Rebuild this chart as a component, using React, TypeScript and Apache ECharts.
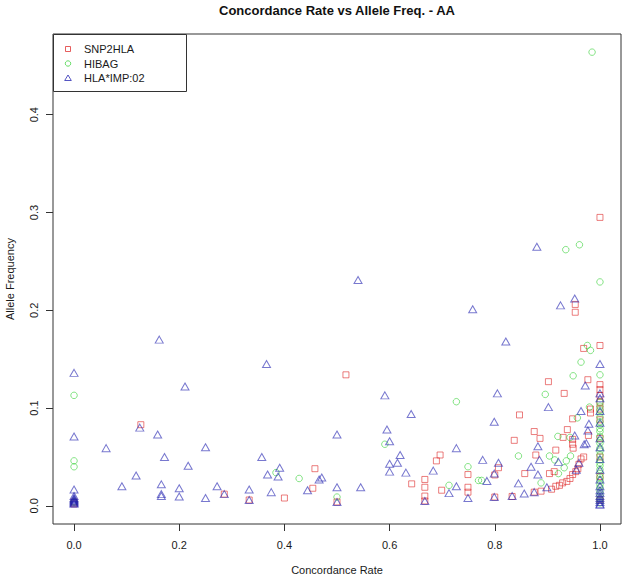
import React, { useEffect, useRef } from "react";
import * as echarts from "echarts";

const titleText = "Concordance Rate vs Allele Freq. - AA";
const xName = "Concordance Rate";
const yName = "Allele Frequency";
const seriesNames = ["SNP2HLA", "HIBAG", "HLA*IMP:02"];
const xTicks = [0, 0.2, 0.4, 0.6, 0.8, 1.0];
const yTicks = [0, 0.1, 0.2, 0.3, 0.4];

// SNP2HLA: [concordance rate, allele frequency]
const snp2hla: [number, number][] = [
  [0, 0.002], [0, 0.004], [0.127, 0.083], [0.2857, 0.012], [0.333, 0.006],
  [0.4, 0.008], [0.454, 0.018], [0.458, 0.038], [0.5, 0.004], [0.517, 0.134],
  [0.642, 0.0225], [0.667, 0.027], [0.667, 0.019], [0.667, 0.01], [0.667, 0.005],
  [0.689, 0.046], [0.696, 0.052], [0.699, 0.016], [0.749, 0.032], [0.749, 0.019],
  [0.749, 0.014], [0.8, 0.0316], [0.8, 0.009], [0.807, 0.039], [0.833, 0.0096],
  [0.837, 0.067], [0.847, 0.093], [0.857, 0.033], [0.875, 0.076], [0.875, 0.014],
  [0.878, 0.052], [0.886, 0.069], [0.888, 0.015], [0.902, 0.127], [0.904, 0.033],
  [0.913, 0.035], [0.908, 0.017], [0.916, 0.02], [0.923, 0.021], [0.929, 0.0235],
  [0.937, 0.025], [0.943, 0.028], [0.948, 0.032], [0.954, 0.035], [0.958, 0.038],
  [0.96, 0.0425], [0.964, 0.048], [0.969, 0.05], [0.916, 0.057], [0.93, 0.07],
  [0.932, 0.115], [0.938, 0.078], [0.948, 0.089], [0.948, 0.063], [0.949, 0.059],
  [0.948, 0.068], [0.953, 0.206], [0.953, 0.198], [0.969, 0.161], [0.977, 0.129],
  [0.978, 0.072], [0.982, 0.095], [0.982, 0.099], [1, 0.295], [1, 0.164],
  [1, 0.124], [1, 0.119], [1, 0.113], [1, 0.106], [1, 0.099], [1, 0.088],
  [1, 0.069], [1, 0.05], [1, 0.03], [1, 0.006],
];

// HIBAG
const hibag: [number, number][] = [
  [0, 0.113], [0, 0.046], [0, 0.04], [0, 0.004], [0.384, 0.034], [0.428, 0.028],
  [0.5, 0.009], [0.591, 0.063], [0.713, 0.021], [0.727, 0.1065], [0.749, 0.04],
  [0.769, 0.026], [0.775, 0.026], [0.845, 0.051], [0.888, 0.0235], [0.896, 0.114],
  [0.904, 0.051], [0.914, 0.047], [0.92, 0.071], [0.921, 0.033], [0.932, 0.039],
  [0.935, 0.262], [0.936, 0.046], [0.943, 0.07], [0.944, 0.051], [0.949, 0.133],
  [0.957, 0.09], [0.961, 0.267], [0.964, 0.147], [0.976, 0.164], [0.982, 0.159],
  [0.98, 0.101], [0.985, 0.464], [1, 0.229], [1, 0.134], [1, 0.106], [1, 0.102],
  [1, 0.098], [1, 0.095], [1, 0.091], [1, 0.086], [1, 0.083], [1, 0.079],
  [1, 0.076], [1, 0.071], [1, 0.067], [1, 0.064], [1, 0.059], [1, 0.056],
  [1, 0.052], [1, 0.047], [1, 0.044], [1, 0.041], [1, 0.037], [1, 0.033],
  [1, 0.029], [1, 0.026], [1, 0.022], [1, 0.019], [1, 0.015], [1, 0.011],
  [1, 0.007], [1, 0.003],
];

// HLA*IMP:02
const hlaimp: [number, number][] = [
  [0, 0.136], [0, 0.071], [0, 0.0167], [0, 0.01], [0, 0.008], [0, 0.007],
  [0, 0.006], [0, 0.005], [0, 0.004], [0, 0.003], [0, 0.002], [0.061, 0.059],
  [0.091, 0.02], [0.118, 0.031], [0.125, 0.08], [0.159, 0.073], [0.162, 0.17],
  [0.166, 0.022], [0.166, 0.012], [0.166, 0.01], [0.172, 0.05], [0.2, 0.018],
  [0.2, 0.0096], [0.211, 0.122], [0.217, 0.041], [0.25, 0.06], [0.25, 0.008],
  [0.272, 0.02], [0.2857, 0.012], [0.333, 0.0167], [0.333, 0.006], [0.357, 0.05],
  [0.366, 0.145], [0.368, 0.032], [0.375, 0.014], [0.388, 0.03], [0.391, 0.039],
  [0.444, 0.016], [0.466, 0.027], [0.471, 0.029], [0.5, 0.073], [0.5, 0.019],
  [0.5, 0.004], [0.54, 0.231], [0.545, 0.019], [0.591, 0.113], [0.595, 0.078],
  [0.6, 0.066], [0.6, 0.043], [0.6, 0.035], [0.615, 0.044], [0.62, 0.052],
  [0.631, 0.034], [0.641, 0.094], [0.667, 0.005], [0.683, 0.036], [0.713, 0.013],
  [0.727, 0.059], [0.727, 0.02], [0.749, 0.008], [0.758, 0.201], [0.777, 0.047],
  [0.785, 0.0255], [0.799, 0.086], [0.799, 0.033], [0.799, 0.009], [0.805, 0.115],
  [0.807, 0.044], [0.821, 0.168], [0.833, 0.01], [0.845, 0.023], [0.856, 0.0126],
  [0.869, 0.04], [0.875, 0.014], [0.88, 0.265], [0.882, 0.061], [0.882, 0.032],
  [0.885, 0.047], [0.899, 0.019], [0.902, 0.101], [0.921, 0.045], [0.925, 0.205],
  [0.952, 0.212], [0.952, 0.072], [0.955, 0.037], [0.96, 0.044], [0.964, 0.097],
  [0.97, 0.063], [0.974, 0.064], [0.972, 0.123], [0.977, 0.077], [0.979, 0.084],
  [1, 0.145], [1, 0.115], [1, 0.11], [1, 0.097], [1, 0.085], [1, 0.069],
  [1, 0.06], [1, 0.048], [1, 0.037], [1, 0.027], [1, 0.02], [1, 0.016],
  [1, 0.013], [1, 0.01], [1, 0.008], [1, 0.006], [1, 0.004], [1, 0.002], [1, 0.001],
];

const FONT = "'Liberation Sans', Arial, Helvetica, sans-serif";
const RED = "rgba(222,40,40,0.75)";
const GREEN = "rgba(40,205,40,0.7)";
const BLUE = "rgba(30,30,175,0.75)";
const INK = "#1a1a1a";

export default function App() {
  const ref = useRef<HTMLDivElement>(null);
  useEffect(() => {
    if (!ref.current) return;
    const chart = echarts.init(ref.current, null, { renderer: "svg" });
    const fmt = (v: number) => Number(v).toFixed(1);
    const hollow = (c: string) => ({ color: "rgba(0,0,0,0)", borderColor: c, borderWidth: 1 });
    const legendRows = [49, 63.5, 78];
    chart.setOption({
      animation: false,
      backgroundColor: "#ffffff",
      textStyle: { fontFamily: FONT },
      grid: {
        left: 53, top: 34, width: 568, height: 490,
        containLabel: false, outerBoundsMode: "none",
        show: true, borderColor: "#333", borderWidth: 1, backgroundColor: "rgba(0,0,0,0)",
      },
      xAxis: {
        type: "value", min: -0.04, max: 1.04, position: "bottom",
        name: xName, nameLocation: "middle", nameGap: 40,
        nameTextStyle: { fontSize: 11, color: INK, fontFamily: FONT },
        axisLine: { show: false, onZero: false },
        splitLine: { show: false },
        axisTick: { show: true, length: 7, inside: false, customValues: xTicks, lineStyle: { color: "#333" } },
        axisLabel: { customValues: xTicks, formatter: fmt, margin: 15, fontSize: 11, color: INK, fontFamily: FONT },
      },
      yAxis: {
        type: "value", min: -0.01856, max: 0.48256, position: "left",
        name: yName, nameLocation: "middle", nameGap: 38, nameRotate: 90,
        nameTextStyle: { fontSize: 11, color: INK, fontFamily: FONT },
        axisLine: { show: false, onZero: false },
        splitLine: { show: false },
        axisTick: { show: true, length: 7, inside: false, customValues: yTicks, lineStyle: { color: "#333" } },
        axisLabel: { customValues: yTicks, formatter: fmt, rotate: 90, margin: 14, fontSize: 11, color: INK, fontFamily: FONT },
      },
      series: [
        { type: "scatter", name: seriesNames[0], data: snp2hla, symbol: "rect", symbolSize: 6, itemStyle: hollow(RED) },
        { type: "scatter", name: seriesNames[1], data: hibag, symbol: "circle", symbolSize: 6.5, itemStyle: hollow(GREEN) },
        { type: "scatter", name: seriesNames[2], data: hlaimp, symbol: "triangle", symbolSize: [8, 7], itemStyle: hollow(BLUE) },
      ],
      graphic: [
        {
          type: "text", x: 337, y: 10, z: 10,
          style: { text: titleText, align: "center", verticalAlign: "middle", textAlign: "center", textVerticalAlign: "middle", fontSize: 13, fontWeight: "bold", fontFamily: FONT, fill: "#111" },
        },
        {
          type: "rect", z: 10, shape: { x: 53.5, y: 34.5, width: 133, height: 57 },
          style: { fill: "#fff", stroke: "#333", lineWidth: 1 },
        },
        {
          type: "rect", z: 11, shape: { x: 65.5, y: legendRows[0] - 2.5, width: 5, height: 5 },
          style: { fill: "none", stroke: RED, lineWidth: 1 },
        },
        {
          type: "circle", z: 11, shape: { cx: 68, cy: legendRows[1], r: 2.7 },
          style: { fill: "none", stroke: GREEN, lineWidth: 1 },
        },
        {
          type: "polygon", z: 11, shape: { points: [[68, legendRows[2] - 3], [71.3, legendRows[2] + 2.5], [64.7, legendRows[2] + 2.5]] },
          style: { fill: "none", stroke: BLUE, lineWidth: 1 },
        },
        ...seriesNames.map((n, i) => ({
          type: "text", z: 11, x: 84, y: legendRows[i],
          style: { text: n, align: "left", verticalAlign: "middle", textAlign: "left", textVerticalAlign: "middle", fontSize: 11, fontFamily: FONT, fill: INK },
        })),
      ],
    });
    return () => chart.dispose();
  }, []);
  return <div ref={ref} style={{ position: "absolute", left: 0, top: 0, width: 625, height: 579 }} />;
}
